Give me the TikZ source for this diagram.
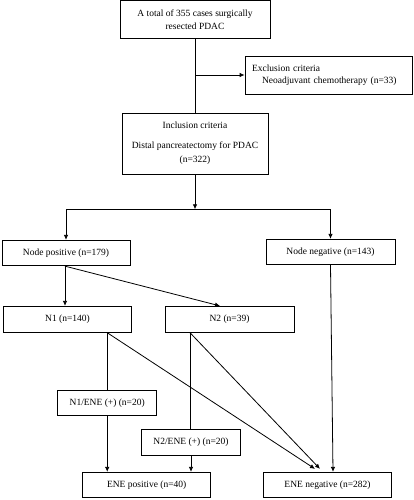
\documentclass[tikz,border=0pt]{standalone}
\usepackage{fontspec}
\setmainfont{Liberation Serif}
\usetikzlibrary{arrows.meta,calc}
\begin{document}
\begin{tikzpicture}[x=1pt,y=1pt,
  box/.style={draw,line width=0.8pt,inner sep=0pt,align=center,font=\fontsize{9.5}{12.5}\selectfont},
  arr/.style={line width=0.8pt,-{Latex[length=5pt,width=4.5pt]}},
  ln/.style={line width=0.8pt}]
\useasboundingbox (0,0) rectangle (414,-500);
\node[box,minimum width=150,minimum height=38] (top) at (195,-19.9) {A total of 355 cases surgically\\resected PDAC};
\node[box,minimum width=167,minimum height=38,text width=153,inner xsep=7pt,align=left] (excl) at (328.5,-75) {Exclusion criteria\\\hspace*{10pt}Neoadjuvant chemotherapy (n=33)};
\node[box,minimum width=146,minimum height=61,font=\fontsize{9.5}{14}\selectfont] (incl) at (195,-143.5) {Inclusion criteria\\[6pt]Distal pancreatectomy for PDAC\\(n=322)};
\node[box,minimum width=128,minimum height=25.5] (npos) at (66,-253) {Node positive (n=179)};
\node[box,minimum width=129,minimum height=25.4] (nneg) at (330.5,-252) {Node negative (n=143)};
\node[box,minimum width=128.4,minimum height=26] (n1) at (67.5,-319.3) {N1 (n=140)};
\node[box,minimum width=129,minimum height=26] (n2) at (229.5,-319.3) {N2 (n=39)};
\node[box,minimum width=99,minimum height=25.7] (n1e) at (107.2,-403) {N1/ENE (+) (n=20)};
\node[box,minimum width=98.6,minimum height=26] (n2e) at (191,-442.3) {N2/ENE (+) (n=20)};
\node[box,minimum width=128,minimum height=25] (epos) at (146.7,-484.8) {ENE positive (n=40)};
\node[box,minimum width=128.4,minimum height=25] (eneg) at (327.5,-484.8) {ENE negative (n=282)};
% top part
\draw[ln] (top.south) -- (incl.north);
\coordinate (j1) at (top.south |- excl.west);
\draw[arr] (j1) -- (excl.west);
\coordinate (h) at (195,-209.3);
\draw[arr] (incl.south) -- (h);
\coordinate (hl) at (npos.north |- h);
\coordinate (hr) at (nneg.north |- h);
\draw[ln] (hl) -- (hr);
\draw[arr] (hl) -- (npos.north);
\draw[arr] (hr) -- (nneg.north);
% node positive
\coordinate (ps) at ($(npos.south)+(-1,0)$);
\draw[arr] (ps) -- (ps |- n1.north);
\coordinate (n2t) at ($(n2.north)+(-9.5,0)$);
\draw[arr] (ps) -- (n2t);
% N1
\coordinate (n1b) at (n1e.north |- n1.south);
\draw[ln] (n1b) -- (n1e.north);
\coordinate (t1) at ($(eneg.north)+(-12.5,3)$);
\draw[arr] (n1b) -- (t1);
\draw[arr] (n1e.south) -- (n1e.south |- epos.north);
% N2
\coordinate (n2b) at ($(n2e.north |- n2.south)+(-1,0)$);
\draw[ln] (n2b) -- (n2b |- n2e.north);
\coordinate (t2) at ($(eneg.north)+(-7.5,3)$);
\draw[arr] (n2b) -- (t2);
\draw[arr] (n2e.south) -- (n2e.south |- epos.north);
% node negative
\draw[arr] (nneg.south) -- ($(eneg.north)+(5.5,0)$);
\end{tikzpicture}
\end{document}
